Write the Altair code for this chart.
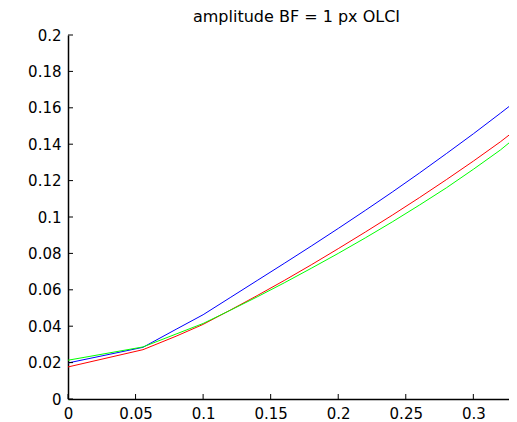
import altair as alt
import pandas as pd

# x positions of the curve vertices
x_vals = [0.0, 0.0555, 0.08, 0.10, 0.12, 0.14, 0.16, 0.18, 0.20, 0.22, 0.24, 0.26, 0.28, 0.30, 0.32, 0.3323]
# three series (blue, red, green)
blue_vals = [0.0198, 0.0284, 0.0383, 0.0463, 0.0557, 0.0651, 0.0745, 0.0840, 0.0937, 0.1036, 0.1137, 0.1241, 0.1348, 0.1457, 0.1570, 0.1641]
red_vals = [0.0176, 0.0271, 0.0345, 0.0410, 0.0488, 0.0568, 0.0651, 0.0737, 0.0826, 0.0917, 0.1010, 0.1106, 0.1205, 0.1307, 0.1413, 0.1484]
green_vals = [0.0213, 0.0286, 0.0357, 0.0415, 0.0487, 0.0561, 0.0638, 0.0718, 0.0800, 0.0885, 0.0973, 0.1065, 0.1160, 0.1262, 0.1368, 0.1443]

series_names = ["s1", "s2", "s3"]
series_colors = ["#0000ff", "#ff0000", "#00ff00"]

x_ticks = [0, 0.05, 0.1, 0.15, 0.2, 0.25, 0.3]
y_ticks = [0, 0.02, 0.04, 0.06, 0.08, 0.1, 0.12, 0.14, 0.16, 0.18, 0.2]

x_domain = [0, 0.3264]
y_domain = [0, 0.2]

rows = []
for name, vals in zip(series_names, [blue_vals, red_vals, green_vals]):
    for i, (xv, yv) in enumerate(zip(x_vals, vals)):
        rows.append({"x": xv, "y": yv, "series": name, "order": i})
df = pd.DataFrame(rows)

W = 441
H = 364

xscale = alt.Scale(domain=x_domain, nice=False, zero=False)
yscale = alt.Scale(domain=y_domain, nice=False, zero=False)

font = "DejaVu Sans"

xaxis = alt.Axis(values=x_ticks, format="~g", ticks=False, grid=False, labelPadding=7,
                 labelFontSize=15, labelFont=font, labelColor="black", domainColor="black",
                 domainWidth=1.5, title=None, labelFlush=False, labelOverlap=False)
yaxis = alt.Axis(values=y_ticks, format="~g", ticks=False, grid=False, labelPadding=7,
                 labelFontSize=15, labelFont=font, labelColor="black", domainColor="black",
                 domainWidth=1.5, title=None, labelFlush=False, labelOverlap=False)

lines = alt.Chart(df).mark_line(strokeWidth=1, clip=True).encode(
    x=alt.X("x:Q", scale=xscale, axis=xaxis),
    y=alt.Y("y:Q", scale=yscale, axis=yaxis),
    color=alt.Color("series:N", scale=alt.Scale(domain=series_names, range=series_colors), legend=None),
    order="order:Q",
)

ytick_df = pd.DataFrame({"yt": y_ticks})
xtick_df = pd.DataFrame({"xt": x_ticks})

yticks = alt.Chart(ytick_df).mark_rule(color="black", strokeWidth=1).encode(
    y=alt.Y("yt:Q", scale=yscale, axis=yaxis),
    x=alt.value(0),
    x2=alt.value(5),
)
xticks = alt.Chart(xtick_df).mark_rule(color="black", strokeWidth=1).encode(
    x=alt.X("xt:Q", scale=xscale, axis=xaxis),
    y=alt.value(H),
    y2=alt.value(H - 5),
)

chart = alt.layer(lines, yticks, xticks).properties(
    width=W,
    height=H,
    title=alt.TitleParams("amplitude BF = 1 px OLCI", font=font, fontSize=16,
                          fontWeight="normal", color="black", dx=8, offset=3),
    autosize=alt.AutoSizeParams(type="none"),
    padding={"left": 60, "top": 27, "right": 0, "bottom": 23},
    background="white",
).configure_view(stroke=None)

chart.save("out.html", embed_options={"renderer": "svg", "actions": False})
